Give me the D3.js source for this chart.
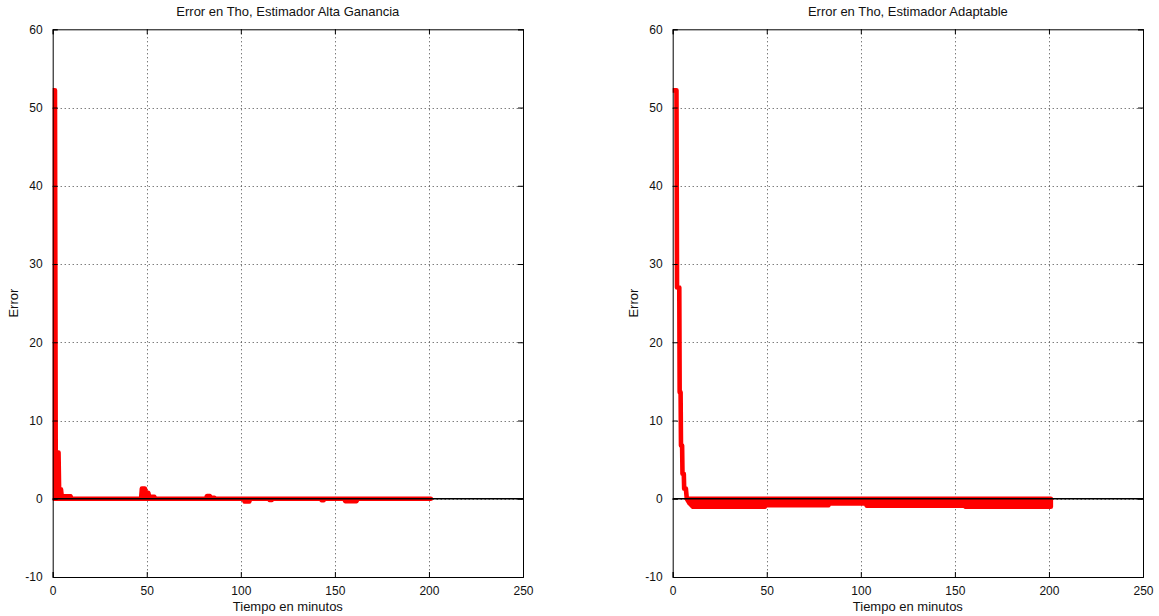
<!DOCTYPE html>
<html>
<head>
<meta charset="utf-8">
<script src="https://cdn.jsdelivr.net/npm/d3@7"></script>
<style>
	body { margin: 0; background: #fff; }
	svg { display: block; font-family: Arial, "Liberation Sans", sans-serif; }
	.tick text { font-size: 12px; fill: #111; }
	.grid line { stroke: #444; stroke-dasharray: 1,3; }
</style>
</head>
<body>
<svg width="1159" height="616"></svg>
<script>
// tiempo (min) y error, estimador alta ganancia
var tAlta = [0, 1.2, 1.6, 3.1, 3.4, 4.4, 4.8, 9.5, 10, 47, 47.4, 49, 49.5, 50.8, 51.3, 54, 54.5, 81.5, 82, 83.5, 84, 86, 86.5, 101.5, 102, 104.5, 105, 115, 115.3, 116.5, 117, 142.5, 143, 144, 144.5, 155, 155.5, 161.5, 162, 201];
var eAlta = [52.2, 52.2, 5.9, 5.9, 1.2, 1.2, 0.3, 0.3, 0, 0, 1.3, 1.3, 0.75, 0.75, 0.25, 0.25, 0, 0, 0.35, 0.35, 0.12, 0.12, 0, 0, -0.35, -0.35, 0, 0, -0.15, -0.15, 0, 0, -0.2, -0.2, 0, 0, -0.3, -0.3, 0, 0];

// estimador adaptable: envolvente superior e inferior de la senal
var tAdap = [0.3, 2, 2.3, 3.5, 3.7, 4.2, 4.4, 5, 5.2, 5.9, 6.1, 7, 7.5, 9, 10.8, 49, 49.3, 82.8, 83.1, 102.8, 103.1, 155.3, 155.6, 201];
var hiAdap = [52.2, 52.2, 27, 27, 13.6, 13.6, 6.8, 6.8, 3.2, 3.2, 1.3, 1.3, 0, 0, 0, 0, 0, 0, 0, 0, 0, 0, 0, 0];
var loAdap = [52.2, 52.2, 27, 27, 13.6, 13.6, 6.8, 6.8, 3.2, 3.2, 1.3, 1.3, 0, -0.6, -1.02, -1.02, -0.82, -0.82, -0.6, -0.6, -0.9, -0.9, -1.02, -1.02];

var xTicks = [0, 50, 100, 150, 200, 250];
var yTicks = [-10, 0, 10, 20, 30, 40, 50, 60];
var titles = ['Error en Tho, Estimador Alta Ganancia', 'Error en Tho, Estimador Adaptable'];

var svg = d3.select('svg');
var top0 = 29.3, bottom0 = 577, w = 470.3;

function panel(i, left, draw) {
	var x = d3.scaleLinear().domain([0, 250]).range([left, left + w]);
	var y = d3.scaleLinear().domain([-10, 60]).range([bottom0, top0]);
	var g = svg.append('g');

	g.append('clipPath').attr('id', 'clip' + i)
		.append('rect').attr('x', x(0)).attr('y', y(60)).attr('width', w).attr('height', bottom0 - top0);

	// rejilla punteada
	var grid = g.append('g').attr('class', 'grid');
	grid.selectAll('.gx').data(xTicks.slice(1, -1)).enter().append('line')
		.attr('x1', function(d){ return Math.round(x(d)) + 0.5; })
		.attr('x2', function(d){ return Math.round(x(d)) + 0.5; })
		.attr('y1', y(60)).attr('y2', y(-10));
	grid.selectAll('.gy').data(yTicks.slice(1, -1)).enter().append('line')
		.attr('y1', function(d){ return Math.round(y(d)) + 0.5; })
		.attr('y2', function(d){ return Math.round(y(d)) + 0.5; })
		.attr('x1', x(0)).attr('x2', x(250));

	draw(g.append('g').attr('clip-path', 'url(#clip' + i + ')'), x, y);

	// linea de cero
	g.append('line')
		.attr('x1', x(0)).attr('x2', x(250))
		.attr('y1', y(0)).attr('y2', y(0))
		.style('stroke', '#000').style('stroke-width', 1.6);

	// ejes con marcas hacia dentro en los cuatro lados
	g.append('g').attr('transform', 'translate(0,' + y(-10) + ')')
		.call(d3.axisBottom(x).tickValues(xTicks).tickSize(-5).tickPadding(9).tickFormat(String));
	g.append('g').attr('transform', 'translate(0,' + y(60) + ')')
		.call(d3.axisTop(x).tickValues(xTicks).tickSize(-5).tickFormat(''));
	g.append('g').attr('transform', 'translate(' + x(0) + ',0)')
		.call(d3.axisLeft(y).tickValues(yTicks).tickSize(-5).tickPadding(10).tickFormat(String));
	g.append('g').attr('transform', 'translate(' + x(250) + ',0)')
		.call(d3.axisRight(y).tickValues(yTicks).tickSize(-5).tickFormat(''));
	g.selectAll('.domain').style('stroke', '#000');
	g.selectAll('.tick line').style('stroke', '#000');

	g.append('text')
		.attr('x', (x(0) + x(250)) / 2).attr('y', 16)
		.attr('text-anchor', 'middle').style('font-size', '13px').style('fill', '#111')
		.text(titles[i]);
	g.append('text')
		.attr('x', (x(0) + x(250)) / 2).attr('y', 611)
		.attr('text-anchor', 'middle').style('font-size', '13px').style('fill', '#111')
		.text('Tiempo en minutos');
	g.append('text')
		.attr('transform', 'translate(' + (x(0) - 35) + ',' + ((top0 + bottom0) / 2) + ') rotate(-90)')
		.attr('text-anchor', 'middle').style('font-size', '13px').style('fill', '#111')
		.text('Error');
}

// la senal oscila muy rapido, asi que se ve como una zona rellena
function band(g, x, y, rows) {
	var area = d3.area()
		.x(function(d){ return x(d[0]); })
		.y0(function(d){ return y(d[2]); })
		.y1(function(d){ return y(d[1]); });
	g.append('path')
		.datum(rows)
		.attr('d', area)
		.style('fill', '#f00').style('stroke', '#f00')
		.style('stroke-width', 4.6).style('stroke-linejoin', 'round');
}

panel(0, 52.7, function(g, x, y){
	var rows = tAlta.map(function(t, k){
		return [t, Math.max(0, eAlta[k]), Math.min(0, eAlta[k])];
	});
	band(g, x, y, rows);
});

panel(1, 672.7, function(g, x, y){
	band(g, x, y, d3.zip(tAdap, hiAdap, loAdap));
});
</script>
</body>
</html>
